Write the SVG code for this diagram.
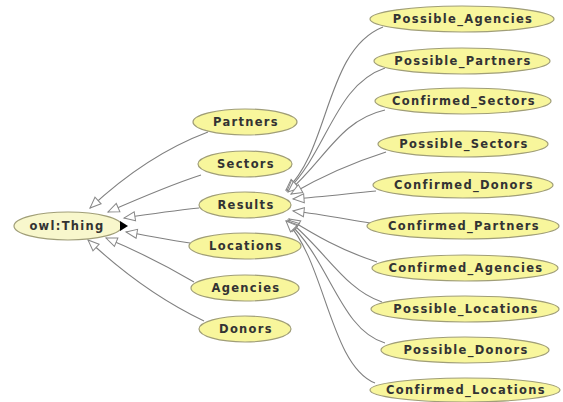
<svg xmlns="http://www.w3.org/2000/svg" width="563" height="402" viewBox="0 0 563 402">
<style>
.n ellipse{fill:#f8f69c;stroke:#a09e78;stroke-width:1.2}
.n text{font-family:"DejaVu Sans",sans-serif;font-size:11.5px;font-weight:bold;letter-spacing:1.3px;fill:#333;text-anchor:middle}
#thing ellipse{fill:#f8f7cc}
.e path{fill:none;stroke:#808080;stroke-width:1.1;marker-end:url(#tri)}
</style>
<defs>
<marker id="tri" markerUnits="userSpaceOnUse" markerWidth="14" markerHeight="12" refX="12" refY="5" orient="auto" overflow="visible">
<path d="M1,0.5 L12,5 L1,9.5 Z" fill="#fff" stroke="#888" stroke-width="1"/>
</marker>
</defs>
<rect width="563" height="402" fill="#fff"/>
<g class="e" id="connectors">
<path d="M208,132 C160,150 120,180 90,208"/>
<path d="M201,175 C170,185 140,198 108,212"/>
<path d="M199,208 C170,211 150,214 124,218"/>
<path d="M190,243 C170,240 150,236 126,232"/>
<path d="M194,282 C165,265 135,250 106,238"/>
<path d="M204,321 C160,300 120,270 88,240"/>
<path d="M383,27 C325,50 330,150 286,190"/>
<path d="M385,68 C335,85 328,150 287,191"/>
<path d="M385,110 C340,120 325,160 288,192"/>
<path d="M386,152 C345,165 310,183 291,194"/>
<path d="M376,191 C345,194 320,197 293,199"/>
<path d="M370,223 C345,219 320,214 293,211"/>
<path d="M377,262 C340,250 315,235 289,219"/>
<path d="M382,302 C345,290 325,250 288,220"/>
<path d="M385,343 C340,330 330,260 287,221"/>
<path d="M375,383 C330,365 325,260 286,221"/>
</g>
<g class="n" id="thing"><ellipse cx="68" cy="226" rx="54" ry="14"/><text x="67" y="230">owl:Thing</text><path d="M120,221 L128,226 L120,231 Z" fill="#000"/></g>
<g class="n" id="partners"><ellipse cx="245" cy="122" rx="52" ry="13"/><text x="246" y="126">Partners</text></g>
<g class="n" id="sectors"><ellipse cx="245" cy="164" rx="47" ry="13"/><text x="246" y="168">Sectors</text></g>
<g class="n" id="results"><ellipse cx="245" cy="205" rx="46" ry="13"/><text x="246" y="209">Results</text></g>
<g class="n" id="locations"><ellipse cx="245" cy="246" rx="56" ry="13"/><text x="246" y="250">Locations</text></g>
<g class="n" id="agencies"><ellipse cx="245" cy="288" rx="54" ry="13"/><text x="246" y="292">Agencies</text></g>
<g class="n" id="donors"><ellipse cx="245" cy="329" rx="46" ry="13"/><text x="246" y="333">Donors</text></g>
<g class="n" id="possible_agencies"><ellipse cx="462" cy="19" rx="92" ry="13"/><text x="463" y="23">Possible_Agencies</text></g>
<g class="n" id="possible_partners"><ellipse cx="462" cy="61" rx="88" ry="13"/><text x="463" y="65">Possible_Partners</text></g>
<g class="n" id="confirmed_sectors"><ellipse cx="463" cy="101" rx="88" ry="13"/><text x="464" y="105">Confirmed_Sectors</text></g>
<g class="n" id="possible_sectors"><ellipse cx="463" cy="144" rx="85" ry="13"/><text x="464" y="148">Possible_Sectors</text></g>
<g class="n" id="confirmed_donors"><ellipse cx="463" cy="185" rx="90" ry="13"/><text x="464" y="189">Confirmed_Donors</text></g>
<g class="n" id="confirmed_partners"><ellipse cx="463" cy="226" rx="96" ry="13"/><text x="464" y="230">Confirmed_Partners</text></g>
<g class="n" id="confirmed_agencies"><ellipse cx="465" cy="268" rx="93" ry="13"/><text x="466" y="272">Confirmed_Agencies</text></g>
<g class="n" id="possible_locations"><ellipse cx="465" cy="309" rx="94" ry="13"/><text x="466" y="313">Possible_Locations</text></g>
<g class="n" id="possible_donors"><ellipse cx="465" cy="350" rx="84" ry="13"/><text x="466" y="354">Possible_Donors</text></g>
<g class="n" id="confirmed_locations"><ellipse cx="465" cy="390" rx="95" ry="12"/><text x="466" y="394">Confirmed_Locations</text></g>
</svg>
